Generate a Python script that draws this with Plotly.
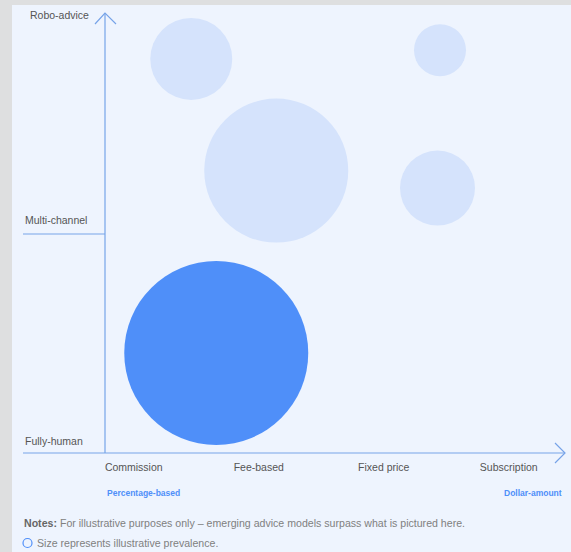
import plotly.graph_objects as go

# ---- data ----
x_categories = ["Commission", "Fee-based", "Fixed price", "Subscription"]
y_categories = ["Fully-human", "Multi-channel", "Robo-advice"]

bubble_x = [1.46, 3.45, 2.14, 3.43, 1.66]
bubble_y = [1.80, 1.84, 1.29, 1.21, 0.457]
prevalence = [82, 52, 144, 75, 184]
highlight = [False, False, False, False, True]

W, H = 571, 552
L, R, T, B = 105, 6, 13, 99
PW = W - L - R
PH = H - T - B

def px(xpix):
    return (xpix - L) / PW

def py(ypix):
    return (H - B - ypix) / PH

LIGHT = "#d5e3fc"
DARK = "#4f8ff9"
AXIS = "#76a3e8"
PANEL = "#eef4fe"

colors = [DARK if h else LIGHT for h in highlight]

fig = go.Figure()
fig.add_trace(go.Scatter(
    x=bubble_x, y=bubble_y, mode="markers",
    marker=dict(size=prevalence, sizemode="diameter", sizeref=1,
                color=colors, opacity=1, line=dict(width=0)),
    hoverinfo="skip", cliponaxis=False, showlegend=False,
))

shapes = []
# panel background
shapes.append(dict(type="rect", xref="paper", yref="paper",
                   x0=px(12), x1=px(W + 5), y0=py(5), y1=py(H + 5),
                   fillcolor=PANEL, line=dict(width=0), layer="below"))
line = dict(color=AXIS, width=1.2)
# y axis
shapes.append(dict(type="line", xref="paper", yref="paper",
                   x0=px(105), x1=px(105), y0=py(453), y1=py(13), line=line))
# y arrowhead
shapes.append(dict(type="path", xref="paper", yref="paper",
                   path=f"M {px(95)} {py(24)} L {px(105)} {py(13)} L {px(116)} {py(24)}",
                   line=line))
# x axis
shapes.append(dict(type="line", xref="paper", yref="paper",
                   x0=px(23), x1=px(565), y0=py(453), y1=py(453), line=line))
shapes.append(dict(type="path", xref="paper", yref="paper",
                   path=f"M {px(555)} {py(443)} L {px(565)} {py(453)} L {px(555)} {py(463)}",
                   line=line))
# multi-channel tick
shapes.append(dict(type="line", xref="paper", yref="paper",
                   x0=px(23), x1=px(105), y0=py(234), y1=py(234), line=line))
# legend circle (size note)
shapes.append(dict(type="circle", xref="paper", yref="paper",
                   x0=px(23), x1=px(32), y0=py(547.5), y1=py(538.5),
                   line=dict(color="#4f8ff9", width=1.2), fillcolor="rgba(0,0,0,0)"))

FONT = "Liberation Sans, Arial, sans-serif"
anns = []
ylab_pos = [(23, 441), (23, 220), (28, 15)]
for (xp, yp), lab in zip(ylab_pos, y_categories):
    anns.append(dict(text=lab, xref="paper", yref="paper", x=px(xp), y=py(yp),
                     xanchor="left", yanchor="middle", showarrow=False,
                     font=dict(size=10.5, color="#555555", family=FONT)))

anns.append(dict(text="<b>Percentage-based</b>", xref="paper", yref="paper",
                 x=px(105), y=py(493), xanchor="left", yanchor="middle",
                 showarrow=False, font=dict(size=8.5, color="#4f8ff9", family=FONT)))
anns.append(dict(text="<b>Dollar-amount</b>", xref="paper", yref="paper",
                 x=px(564), y=py(493), xanchor="right", yanchor="middle",
                 showarrow=False, font=dict(size=8.5, color="#4f8ff9", family=FONT)))
anns.append(dict(text="<b><span style='color:#666666'>Notes:</span></b> For illustrative purposes only – emerging advice models surpass what is pictured here.",
                 xref="paper", yref="paper", x=px(22), y=py(523), xanchor="left", yanchor="middle",
                 showarrow=False, font=dict(size=10.6, color="#808080", family=FONT)))
anns.append(dict(text="Size represents illustrative prevalence.",
                 xref="paper", yref="paper", x=px(35), y=py(543), xanchor="left", yanchor="middle",
                 showarrow=False, font=dict(size=10.6, color="#808080", family=FONT)))

fig.update_layout(
    width=W, height=H,
    margin=dict(l=L, r=R, t=T, b=B, pad=0),
    paper_bgcolor="#dedfe0",
    plot_bgcolor="rgba(0,0,0,0)",
    shapes=shapes, annotations=anns,
    xaxis=dict(range=[0.77, 4.45], tickvals=[1, 2, 3, 4], ticktext=x_categories,
               showgrid=False, zeroline=False, showline=False, ticks="",
               ticklabelstandoff=6,
               tickfont=dict(size=10.5, color="#555555", family=FONT), fixedrange=True),
    yaxis=dict(range=[0, 2.01], showticklabels=False, showgrid=False,
               zeroline=False, showline=False, fixedrange=True),
)

fig.write_html("out.html", config={"displayModeBar": False},
               post_script="document.body.style.margin='0';document.body.style.overflow='hidden';")
